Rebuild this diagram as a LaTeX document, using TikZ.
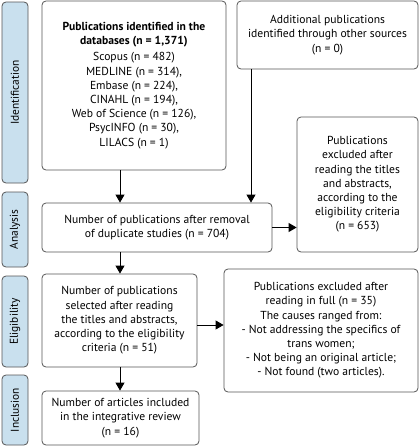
\documentclass[tikz,border=0pt]{standalone}
\usepackage{fontspec}
\setmainfont{PT Sans}
\usetikzlibrary{arrows.meta}
\definecolor{sidefill}{HTML}{C9E0EE}
\definecolor{edgegray}{HTML}{555555}
\tikzset{
  box/.style={draw=edgegray, line width=0.8pt, rounded corners=4pt, fill=white,
    align=center, inner sep=2pt, font=\fontsize{11.6}{14.2}\selectfont},
  side/.style={draw=edgegray, line width=0.8pt, rounded corners=4pt, fill=sidefill,
    minimum width=26pt, font=\fontsize{11.4}{14}\selectfont, inner sep=0pt},
  arr/.style={line width=0.9pt, -{Triangle[width=9pt,length=8pt]}},
}
\begin{document}
\begin{tikzpicture}[x=1pt,y=-1pt]
\useasboundingbox (0,0) rectangle (419,447);
% side bars
\node[side, minimum height=181pt] (sid) at (15,92.5) {\rotatebox{90}{Identification}};
\node[side, minimum height=75pt] (san) at (15,229.5) {\rotatebox{90}{Analysis}};
\node[side, minimum height=91pt] (sel) at (15,321.5) {\rotatebox{90}{Eligibility}};
\node[side, minimum height=70pt] (sin) at (15,410) {\rotatebox{90}{Inclusion}};
% boxes
\node[box, minimum width=184pt, minimum height=169pt] (b1) at (134,85.5)
 {\textbf{Publications identified in the}\\\textbf{databases (n = 1,371)}\\[2pt]
  Scopus (n = 482)\\MEDLINE (n = 314),\\Embase (n = 224),\\CINAHL (n = 194),\\
  Web of Science (n = 126),\\PsycINFO (n = 30),\\LILACS (n = 1)};
\node[box, minimum width=181pt, minimum height=68pt] (b2) at (327.5,35)
 {Additional publications\\identified through other sources\\(n = 0)};
\node[box, minimum width=121pt, minimum height=135pt] (b3) at (357.5,184.5)
 {Publications\\excluded after\\reading the titles\\and abstracts,\\according to the\\eligibility criteria\\(n = 653)};
\node[box, minimum width=230pt, minimum height=49pt] (b4) at (157,227.5)
 {Number of publications after removal\\of duplicate studies (n = 704)};
\node[box, minimum width=155pt, minimum height=93pt] (b5) at (119.5,320.5)
 {Number of publications\\selected after reading\\the titles and abstracts,\\according to the eligibility\\criteria (n = 51)};
\node[box, minimum width=194pt, minimum height=123pt] (b6) at (321,330.5)
 {Publications excluded after\\reading in full (n = 35)\\The causes ranged from:\\- Not addressing the specifics of\\trans women;\\- Not being an original article;\\- Not found (two articles).};
\node[box, minimum width=157pt, minimum height=54pt] (b7) at (120.5,418)
 {Number of articles included\\in the integrative review\\(n = 16)};
% connectors
\coordinate (cx1) at (120,0);
\coordinate (cx2) at (251,0);
\coordinate (cy5) at (0,325);
\draw[arr] (b1.south -| cx1) -- (b4.north -| cx1);
\draw[arr] (b2.south -| cx2) -- (b4.north -| cx2);
\draw[arr] (b4.east) -- (b4.east -| b3.west);
\draw[arr] (b4.south -| cx1) -- (b5.north -| cx1);
\draw[arr] (b5.east |- cy5) -- (b6.west |- cy5);
\draw[arr] (b5.south -| cx1) -- (b7.north -| cx1);
\end{tikzpicture}
\end{document}
